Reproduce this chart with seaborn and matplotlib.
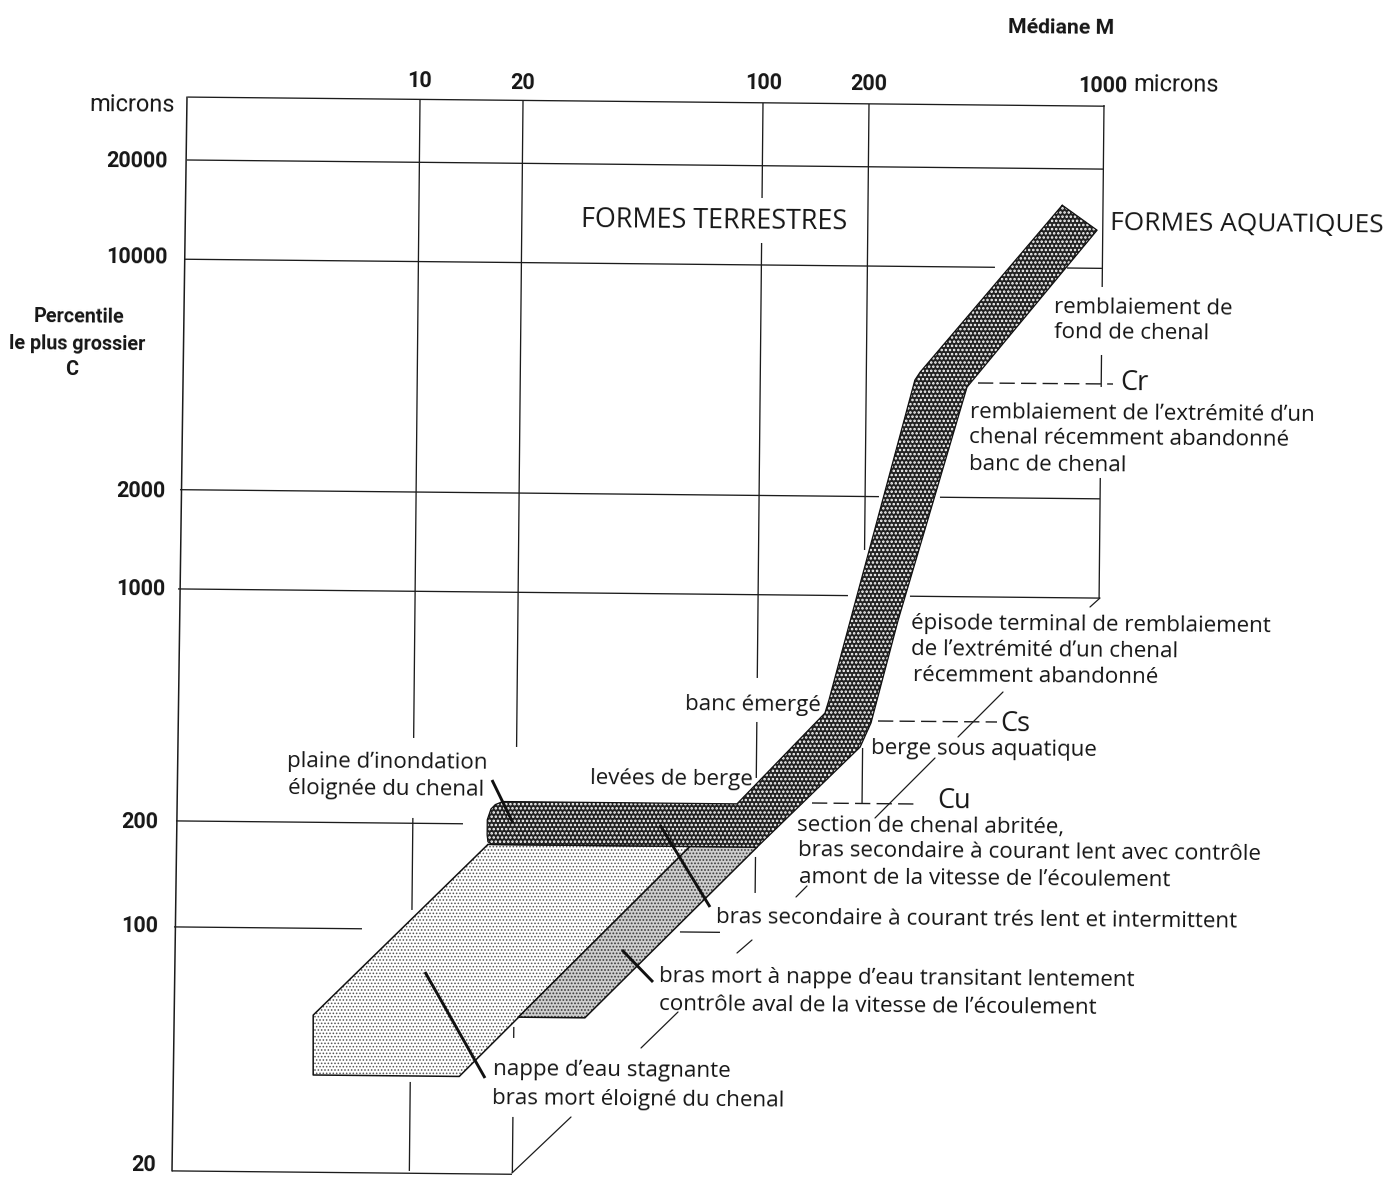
import numpy as np
import pandas as pd
import matplotlib
matplotlib.use("Agg")
import matplotlib.pyplot as plt
import seaborn as sns
from matplotlib.transforms import Affine2D, blended_transform_factory

W, H = 1388, 1177
TILT_DEG = 0.57
TILT = np.tan(np.radians(TILT_DEG))

# ---- data (microns) ------------------------------------------------------
X_TICKS = [10, 20, 100, 200, 1000]
Y_TICKS = [20, 100, 200, 1000, 2000, 10000, 20000]
X_TICK_LABELS = ["10", "20", "100", "200", "1000"]
Y_TICK_LABELS = ["20", "100", "200", "1000", "2000", "10000", "20000"]

BAND_M = [756.5, 962, 399, 253, 211.5, 196.8, 101, 17.07, 16.6, 16.5, 16.5, 16.9, 17.4, 18.3, 88, 156, 160, 279, 289]
BAND_C = [15500, 13050, 4323, 847, 414, 350, 175, 175, 178, 186, 206, 222, 229, 234, 234, 442, 484, 4524, 4783]

STAGNANT_M = [16.6, 5.18, 5.2, 13.9, 64.4]
STAGNANT_C = [175, 56.4, 38, 38, 175]

SLOW_M = [20.6, 32.2, 101, 64.4]
SLOW_C = [56.4, 56.4, 175, 175]

# axis calibration: log10(value) -> pixel position
LOG_X = [-0.2263, 1, 1.301, 2, 2.301, 3, 3.848]
PIX_X = [0, 419.4, 522.4, 762.4, 868.4, 1103.4, 1388]
LOG_Y = [1.2838, 1.301, 2, 2.301, 3, 4.301, 4.785]
PIX_Y = [1177, 1171, 927, 821, 589, 160, 0]
PIX_Y_UP = [H - p for p in PIX_Y]

# ---- style ---------------------------------------------------------------
sns.set_theme(style="white")
NARROW = ["Roboto", "DejaVu Sans"]
HUMAN = ["Open Sans", "DejaVu Sans"]
INK = "#1c1c1c"

fig = plt.figure(figsize=(W / 100, H / 100), dpi=100, facecolor="white")
ax = fig.add_axes([0, 0, 1, 1])


def fx(v):
    return np.interp(np.log10(np.clip(v, 1e-9, None)), LOG_X, PIX_X)


def ix(p):
    return 10 ** np.interp(p, PIX_X, LOG_X)


def fy(v):
    return np.interp(np.log10(np.clip(v, 1e-9, None)), LOG_Y, PIX_Y_UP)


def iy(p):
    return 10 ** np.interp(p, PIX_Y_UP, LOG_Y)


ax.set_xscale("function", functions=(fx, ix))
ax.set_yscale("function", functions=(fy, iy))
XLIM = (10 ** LOG_X[0], 10 ** LOG_X[-1])
YLIM = (10 ** LOG_Y[0], 10 ** LOG_Y[-1])
ax.set_xlim(*XLIM)
ax.set_ylim(*YLIM)
ax.set_axis_off()

# the printed plate is turned slightly clockwise on the page
ROT = Affine2D().rotate_deg_around(187, H - 160, -TILT_DEG)
TR = ax.transData + ROT
PX_Y = Affine2D().scale(1, -1).translate(0, H)   # image pixels, y downwards
TR_H = blended_transform_factory(Affine2D(), ax.transData) + ROT
TR_V = blended_transform_factory(ax.transData, PX_Y) + ROT

GRID_KW = dict(color=INK, lw=0.95, solid_capstyle="butt", zorder=1)

# horizontal rules: value -> visible pieces (left/right in image pixels)
H_PIECES = {
    20000: [(187, 1104)],
    10000: [(185, 995), (1067, 1102)],
    2000: [(180, 879), (940, 1100)],
    1000: [(178, 848), (910, 1100)],
    200: [(176, 463)],
    100: [(174, 362), (680, 720)],
    20: [(172, 512)],
}
for val, pieces in H_PIECES.items():
    yp = H - fy(val)
    for a, b in pieces:
        ax.plot([a + TILT * (yp - 160), b + TILT * (yp - 160)], [val, val], transform=TR_H, **GRID_KW)

# vertical rules: value -> visible pieces (top/bottom in image pixels)
V_PIECES = {
    10: [(100, 738), (818, 910), (1082, 1171)],
    20: [(101, 747), (1027, 1038), (1117, 1173)],
    100: [(103, 198), (243, 678), (722, 778), (857, 893)],
    200: [(104, 550), (748, 803)],
    1000: [(105, 287), (355, 387), (478, 598)],
}
for val, pieces in V_PIECES.items():
    xp = float(fx(val))
    for a, b in pieces:
        ax.plot([val, val], [a - TILT * (xp - 187), b - TILT * (xp - 187)], transform=TR_V, **GRID_KW)

# frame top and left side
FRAME_TOP = 31000
ax.plot([187, 1104], [FRAME_TOP, FRAME_TOP], transform=TR_H, **GRID_KW)
ax.plot([187, 172], [97, 1171], transform=PX_Y, color=INK, lw=1.1, zorder=1)


def region(xs, ys, face, dots, hatch_color, hatch_lw, z, edge_lw):
    with plt.rc_context({"hatch.linewidth": hatch_lw}):
        patch = ax.fill(xs, ys, facecolor=face, edgecolor=hatch_color, hatch=dots,
                        linewidth=0, transform=TR, zorder=z)[0]
    if hasattr(patch, "set_hatch_linewidth"):
        patch.set_hatch_linewidth(hatch_lw)
    df = pd.DataFrame({"m": list(xs) + [xs[0]], "c": list(ys) + [ys[0]]})
    n0 = len(ax.lines)
    sns.lineplot(data=df, x="m", y="c", sort=False, estimator=None, color="#111111",
                 linewidth=edge_lw, ax=ax, zorder=z + 0.1, legend=False)
    for ln in ax.lines[n0:]:
        ln.set_transform(TR)
        ln.set_solid_joinstyle("round")


region(STAGNANT_M, STAGNANT_C, "#ffffff", ".....", "#555555", 0.72, 3, 1.1)
region(SLOW_M, SLOW_C, "#cfcfcf", ".....", "#3a3a3a", 0.85, 4, 1.1)
region(BAND_M, BAND_C, "#222222", "....", "#ffffff", 1.2, 5, 0.9)
ax.set_xlim(*XLIM)
ax.set_ylim(*YLIM)
ax.set_xlabel("")
ax.set_ylabel("")

# ---- annotation strokes (image pixels) -----------------------------------
THICK = [((492, 780), (513, 823)), ((660, 825), (710, 907)),
         ((425, 972), (485, 1078)), ((622, 950), (653, 982))]
for p, q in THICK:
    ax.plot([p[0], q[0]], [p[1], q[1]], transform=PX_Y, color="#111111", lw=2.1, zorder=7,
            solid_capstyle="butt")

THIN = [((1100, 598), (1090, 607)), ((1003, 692), (958, 737)), ((935, 758), (875, 818)),
        ((807, 886), (796, 897)), ((752, 940), (737, 953)), ((678, 1012), (641, 1048)),
        ((571, 1117), (512, 1173))]
for p, q in THIN:
    ax.plot([p[0], q[0]], [p[1], q[1]], transform=PX_Y, color=INK, lw=0.9, zorder=2)

DASHED = [((978, 383), (1113, 384)), ((878, 721), (997, 722)), ((812, 803), (915, 804))]
for p, q in DASHED:
    ax.plot([p[0], q[0]], [p[1], q[1]], transform=PX_Y, color=INK, lw=1.0, zorder=2,
            dashes=(11, 4.5))

# ---- text ----------------------------------------------------------------
TXT_PX = PX_Y


def label(x, y, s, fam=HUMAN, size=16.1, ha="left", weight="normal", color="#161616"):
    ax.text(x, y + 2, s, transform=TXT_PX, family=fam, fontsize=size, ha=ha, va="center",
            weight=weight, color=color, zorder=9, rotation=-0.5, rotation_mode="anchor")


for s, x, y in zip(X_TICK_LABELS, [420, 523, 764, 869, 1103], [79, 81, 81, 82, 84]):
    label(x, y, s, NARROW, 15.5, "center", "bold")
for s, x, y in zip(Y_TICK_LABELS, [156, 158, 158, 165, 165, 168, 168], [1163, 924, 820, 587, 489, 256, 160]):
    label(x, y, s, NARROW, 15.5, "right", "bold")

label(1133, 83, "microns", NARROW, 17)
label(175, 103, "microns", NARROW, 17, "right")
label(1008, 26, "Médiane M", NARROW, 15.2, "left", "bold")
label(79, 315, "Percentile", NARROW, 14.2, "center", "bold")
label(77, 342, "le plus grossier", NARROW, 14.2, "center", "bold")
label(72, 368, "C", NARROW, 14.2, "center", "bold")

label(581, 218, "FORMES TERRESTRES", HUMAN, 19.4)
label(1110, 222, "FORMES AQUATIQUES", HUMAN, 18.9)

ANNOTATIONS = [
    (1054, 306, "remblaiement de"), (1054, 331, "fond de chenal"),
    (970, 411, "remblaiement de l’extrémité d’un"), (969, 436, "chenal récemment abandonné"),
    (969, 463, "banc de chenal"),
    (911, 622, "épisode terminal de remblaiement"), (911, 648, "de l’extrémité d’un chenal"),
    (913, 674, "récemment abandonné"),
    (685, 703, "banc émergé"), (871, 747, "berge sous aquatique"),
    (287, 760, "plaine d’inondation"), (288, 787, "éloignée du chenal"),
    (590, 777, "levées de berge"),
    (797, 824, "section de chenal abritée,"), (798, 849, "bras secondaire à courant lent avec contrôle"),
    (799, 876, "amont de la vitesse de l’écoulement"),
    (716, 916, "bras secondaire à courant trés lent et intermittent"),
    (659, 975, "bras mort à nappe d’eau transitant lentement"),
    (659, 1003, "contrôle aval de la vitesse de l’écoulement"),
    (493, 1068, "nappe d’eau stagnante"), (492, 1097, "bras mort éloigné du chenal"),
]
for x, y, s in ANNOTATIONS:
    label(x, y, s)

label(1120, 381, "Cr", HUMAN, 19.5)
label(1000, 722, "Cs", HUMAN, 19.5)
label(937, 799, "Cu", HUMAN, 19.5)

fig.savefig("out.png", dpi=100, facecolor="white")
